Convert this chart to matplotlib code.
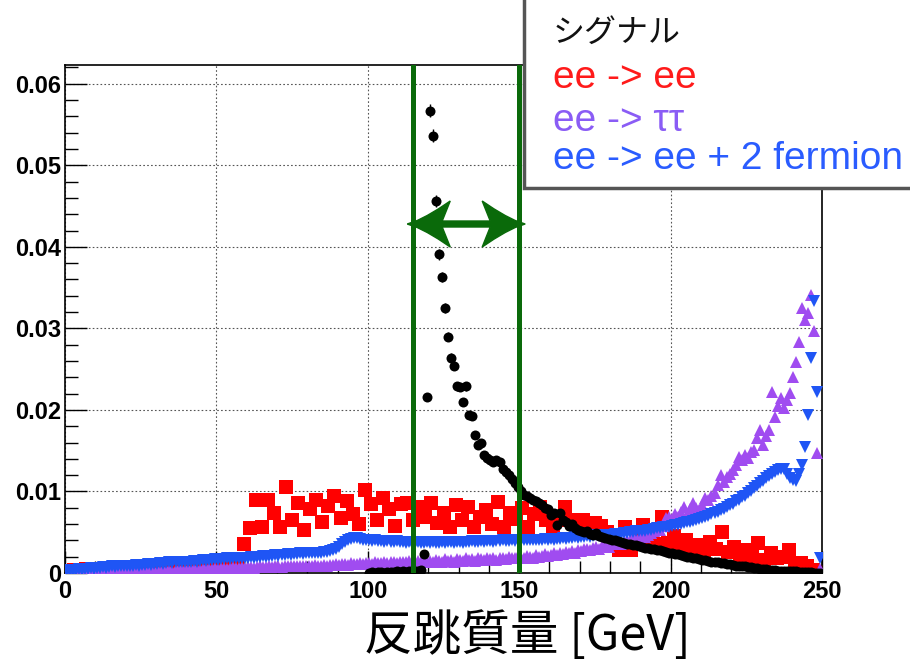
import numpy as np
import matplotlib
matplotlib.use("Agg")
import matplotlib.pyplot as plt
from matplotlib.patches import Rectangle, Polygon
from matplotlib.ticker import MultipleLocator, FuncFormatter

# recoil mass histograms, 1 GeV bins from 0 to 250 GeV
# ee -> ee + 2 fermion
blue_y = [
    0.0003, 0.0004, 0.0003, 0.0004, 0.0005, 0.0004, 0.0005, 0.0005, 0.0006, 0.0005,
    0.0006, 0.0006, 0.0007, 0.0006, 0.0007, 0.0008, 0.0007, 0.0008, 0.0008, 0.0009,
    0.0008, 0.0009, 0.0009, 0.0010, 0.0009, 0.0010, 0.0010, 0.0011, 0.0010, 0.0011,
    0.0011, 0.0012, 0.0011, 0.0012, 0.0013, 0.0012, 0.0013, 0.0013, 0.0014, 0.0013,
    0.0014, 0.0014, 0.0015, 0.0014, 0.0015, 0.0016, 0.0015, 0.0016, 0.0016, 0.0017,
    0.0016, 0.0017, 0.0017, 0.0018, 0.0017, 0.0018, 0.0018, 0.0019, 0.0018, 0.0019,
    0.0019, 0.0020, 0.0019, 0.0020, 0.0020, 0.0021, 0.0020, 0.0021, 0.0021, 0.0022,
    0.0021, 0.0022, 0.0022, 0.0023, 0.0022, 0.0023, 0.0023, 0.0024, 0.0023, 0.0024,
    0.0024, 0.0025, 0.0024, 0.0025, 0.0025, 0.0026, 0.0026, 0.0027, 0.0028, 0.0030,
    0.0032, 0.0035, 0.0038, 0.0040, 0.0042, 0.0043, 0.0043, 0.0042, 0.0041, 0.0040,
    0.0040, 0.0039, 0.0040, 0.0039, 0.0039, 0.0038, 0.0039, 0.0038, 0.0038, 0.0039,
    0.0038, 0.0038, 0.0037, 0.0038, 0.0037, 0.0037, 0.0038, 0.0037, 0.0037, 0.0038,
    0.0037, 0.0038, 0.0037, 0.0037, 0.0038, 0.0037, 0.0038, 0.0038, 0.0037, 0.0038,
    0.0038, 0.0037, 0.0038, 0.0038, 0.0039, 0.0038, 0.0038, 0.0039, 0.0038, 0.0039,
    0.0039, 0.0038, 0.0039, 0.0039, 0.0040, 0.0039, 0.0039, 0.0040, 0.0039, 0.0040,
    0.0040, 0.0040, 0.0041, 0.0040, 0.0041, 0.0041, 0.0040, 0.0041, 0.0042, 0.0041,
    0.0042, 0.0041, 0.0042, 0.0042, 0.0043, 0.0042, 0.0043, 0.0043, 0.0044, 0.0043,
    0.0044, 0.0044, 0.0045, 0.0044, 0.0045, 0.0046, 0.0045, 0.0046, 0.0046, 0.0047,
    0.0047, 0.0048, 0.0047, 0.0048, 0.0049, 0.0049, 0.0050, 0.0050, 0.0051, 0.0051,
    0.0052, 0.0052, 0.0053, 0.0053, 0.0054, 0.0055, 0.0055, 0.0056, 0.0057, 0.0057,
    0.0058, 0.0059, 0.0059, 0.0060, 0.0061, 0.0062, 0.0063, 0.0064, 0.0065, 0.0066,
    0.0067, 0.0069, 0.0070, 0.0072, 0.0074, 0.0075, 0.0077, 0.0079, 0.0081, 0.0083,
    0.0085, 0.0088, 0.0090, 0.0093, 0.0095, 0.0098, 0.0101, 0.0104, 0.0107, 0.0110,
    0.0113, 0.0116, 0.0119, 0.0121, 0.0124, 0.0126, 0.0128, 0.0127, 0.0122, 0.0116,
    0.0114, 0.0113, 0.0122, 0.0133, 0.0155, 0.0194, 0.0264, 0.0333, 0.0222, 0.0018,
]

# ee -> tautau
purple_y = [
    0.0000, 0.0001, 0.0000, 0.0001, 0.0001, 0.0000, 0.0001, 0.0001, 0.0002, 0.0001,
    0.0001, 0.0002, 0.0001, 0.0002, 0.0002, 0.0001, 0.0002, 0.0002, 0.0003, 0.0002,
    0.0002, 0.0003, 0.0002, 0.0003, 0.0003, 0.0002, 0.0003, 0.0003, 0.0004, 0.0003,
    0.0003, 0.0004, 0.0003, 0.0004, 0.0004, 0.0003, 0.0004, 0.0005, 0.0004, 0.0004,
    0.0005, 0.0004, 0.0005, 0.0005, 0.0004, 0.0005, 0.0006, 0.0005, 0.0005, 0.0006,
    0.0005, 0.0006, 0.0006, 0.0005, 0.0006, 0.0007, 0.0006, 0.0006, 0.0007, 0.0006,
    0.0007, 0.0007, 0.0006, 0.0007, 0.0008, 0.0007, 0.0007, 0.0008, 0.0007, 0.0008,
    0.0008, 0.0007, 0.0008, 0.0009, 0.0008, 0.0008, 0.0009, 0.0008, 0.0009, 0.0009,
    0.0008, 0.0009, 0.0010, 0.0009, 0.0009, 0.0010, 0.0009, 0.0010, 0.0010, 0.0011,
    0.0010, 0.0011, 0.0011, 0.0010, 0.0012, 0.0011, 0.0011, 0.0012, 0.0011, 0.0012,
    0.0012, 0.0011, 0.0013, 0.0012, 0.0012, 0.0013, 0.0012, 0.0014, 0.0013, 0.0012,
    0.0014, 0.0013, 0.0013, 0.0015, 0.0014, 0.0013, 0.0015, 0.0014, 0.0016, 0.0014,
    0.0015, 0.0013, 0.0016, 0.0015, 0.0014, 0.0017, 0.0015, 0.0016, 0.0014, 0.0017,
    0.0016, 0.0015, 0.0018, 0.0016, 0.0017, 0.0015, 0.0018, 0.0017, 0.0016, 0.0019,
    0.0017, 0.0018, 0.0016, 0.0019, 0.0018, 0.0017, 0.0020, 0.0018, 0.0019, 0.0021,
    0.0019, 0.0018, 0.0021, 0.0020, 0.0019, 0.0022, 0.0020, 0.0021, 0.0023, 0.0021,
    0.0022, 0.0024, 0.0022, 0.0025, 0.0023, 0.0026, 0.0024, 0.0027, 0.0025, 0.0028,
    0.0027, 0.0029, 0.0030, 0.0028, 0.0031, 0.0032, 0.0030, 0.0033, 0.0034, 0.0032,
    0.0035, 0.0036, 0.0037, 0.0035, 0.0038, 0.0040, 0.0039, 0.0044, 0.0041, 0.0043,
    0.0045, 0.0044, 0.0047, 0.0049, 0.0051, 0.0057, 0.0053, 0.0058, 0.0067, 0.0069,
    0.0066, 0.0072, 0.0069, 0.0075, 0.0081, 0.0070, 0.0078, 0.0086, 0.0080, 0.0077,
    0.0084, 0.0092, 0.0090, 0.0095, 0.0098, 0.0108, 0.0120, 0.0112, 0.0118, 0.0122,
    0.0126, 0.0133, 0.0142, 0.0138, 0.0145, 0.0141, 0.0148, 0.0151, 0.0166, 0.0175,
    0.0157, 0.0168, 0.0175, 0.0222, 0.0191, 0.0205, 0.0215, 0.0202, 0.0212, 0.0221,
    0.0240, 0.0259, 0.0283, 0.0325, 0.0310, 0.0319, 0.0341, 0.0297, 0.0147, 0.0005,
]

# signal, bins from 100 GeV on (empty below)
signal_start = 100
black_y = [
    0.0000, 0.0001, 0.0000, 0.0001, 0.0001, 0.0000, 0.0001, 0.0001, 0.0001, 0.0002,
    0.0001, 0.0002, 0.0001, 0.0002, 0.0002, 0.0003, 0.0003, 0.0004, 0.0023, 0.0216,
    0.0567, 0.0536, 0.0456, 0.0391, 0.0363, 0.0325, 0.0290, 0.0264, 0.0254, 0.0229,
    0.0228, 0.0210, 0.0229, 0.0194, 0.0192, 0.0169, 0.0157, 0.0160, 0.0145, 0.0141,
    0.0138, 0.0136, 0.0139, 0.0136, 0.0128, 0.0124, 0.0120, 0.0115, 0.0110, 0.0105,
    0.0100, 0.0096, 0.0095, 0.0092, 0.0090, 0.0088, 0.0086, 0.0084, 0.0080, 0.0078,
    0.0071, 0.0073, 0.0059, 0.0073, 0.0065, 0.0062, 0.0058, 0.0060, 0.0055, 0.0053,
    0.0052, 0.0050, 0.0051, 0.0048, 0.0047, 0.0049, 0.0045, 0.0044, 0.0043, 0.0042,
    0.0040, 0.0041, 0.0039, 0.0038, 0.0037, 0.0036, 0.0035, 0.0034, 0.0034, 0.0033,
    0.0032, 0.0031, 0.0031, 0.0030, 0.0029, 0.0028, 0.0028, 0.0027, 0.0026, 0.0025,
    0.0024, 0.0023, 0.0023, 0.0022, 0.0021, 0.0020, 0.0020, 0.0019, 0.0018, 0.0017,
    0.0016, 0.0016, 0.0015, 0.0014, 0.0014, 0.0013, 0.0012, 0.0012, 0.0011, 0.0011,
    0.0010, 0.0009, 0.0009, 0.0008, 0.0008, 0.0007, 0.0007, 0.0006, 0.0006, 0.0005,
    0.0005, 0.0005, 0.0004, 0.0004, 0.0004, 0.0003, 0.0003, 0.0003, 0.0002, 0.0002,
    0.0002, 0.0002, 0.0001, 0.0001, 0.0001, 0.0001, 0.0001, 0.0000, 0.0000, 0.0000,
]

# ee -> ee, 2 GeV bins
red_y = [
    0.0003, 0.0004, 0.0003, 0.0005, 0.0004, 0.0003, 0.0005, 0.0004, 0.0006, 0.0005,
    0.0004, 0.0006, 0.0005, 0.0007, 0.0005, 0.0006, 0.0004, 0.0007, 0.0006, 0.0008,
    0.0006, 0.0007, 0.0008, 0.0006, 0.0009, 0.0007, 0.0008, 0.0009, 0.0010,
    0.0036, 0.0055, 0.0089, 0.0057, 0.0090, 0.0073, 0.0057, 0.0105, 0.0065, 0.0086,
    0.0053, 0.0078, 0.0090, 0.0062, 0.0082, 0.0095, 0.0068, 0.0088, 0.0072, 0.0060,
    0.0102, 0.0085, 0.0065, 0.0092, 0.0078, 0.0058, 0.0085, 0.0086, 0.0065, 0.0081,
    0.0069, 0.0086, 0.0061, 0.0074, 0.0056, 0.0083, 0.0065, 0.0081, 0.0056, 0.0069,
    0.0077, 0.0060, 0.0087, 0.0056, 0.0074, 0.0066, 0.0080, 0.0056, 0.0072, 0.0081,
    0.0065, 0.0056, 0.0065, 0.0081, 0.0065, 0.0056, 0.0065, 0.0053, 0.0061, 0.0058,
    0.0050, 0.0045, 0.0028, 0.0056, 0.0028, 0.0042, 0.0059, 0.0040, 0.0035, 0.0069,
    0.0037, 0.0045, 0.0032, 0.0040, 0.0030, 0.0034, 0.0028, 0.0038, 0.0030, 0.0050,
    0.0026, 0.0032, 0.0022, 0.0028, 0.0020, 0.0037, 0.0016, 0.0024, 0.0018, 0.0020,
    0.0028, 0.0012, 0.0012, 0.0009, 0.0004, 0.0001,
]

cut_lo, cut_hi = 115, 150
arrow_level = 0.0428

legend_labels = ["シグナル", "ee -> ee", "ee -> ττ", "ee -> ee + 2 fermion"]
legend_colors = ["#111111", "#ff1a1a", "#8a5cf5", "#2a5cff"]

blue_x = np.arange(len(blue_y)) + 0.5
purple_x = np.arange(len(purple_y)) + 0.5
black_x = signal_start + np.arange(len(black_y)) + 0.5
red_x = 2 * np.arange(len(red_y)) + 1

jp = ["Noto Sans CJK JP", "DejaVu Sans"]
latin = ["Liberation Sans", "DejaVu Sans"]
plt.rcParams["font.family"] = ["Liberation Sans", "Noto Sans CJK JP", "DejaVu Sans"]

W, H = 910, 664
ax_px = (65, 91, 757, 508)  # left, bottom, width, height in pixels
xmax, ymax = 250, 0.0623

fig = plt.figure(figsize=(W / 100, H / 100), dpi=100)
ax = fig.add_axes([ax_px[0] / W, ax_px[1] / H, ax_px[2] / W, ax_px[3] / H])

ax.plot(red_x, red_y, "s", color="#ff0000", ms=9.8, mew=0, zorder=2)

purple_err = np.sqrt(np.array(purple_y) * 6e-6)
ax.errorbar(purple_x, purple_y, yerr=purple_err, fmt="^", color="#a04cf0",
            ecolor="#333333", elinewidth=0.8, ms=8.5, mew=0, zorder=3)

ax.plot(blue_x, blue_y, "v", color="#1f55f5", ms=8.5, mew=0, zorder=4)

black_err = np.sqrt(np.array(black_y) * 1.2e-5)
ax.errorbar(black_x, black_y, yerr=black_err, fmt="o", color="black",
            ecolor="black", elinewidth=1, ms=7.2, mew=0, zorder=5)

# mass window
for xc in (cut_lo, cut_hi):
    ax.axvline(xc, color="#0a6a0a", lw=3.6, zorder=6)

# double arrow with swept heads, shape given in pixels
gx = xmax / ax_px[2]
gy = ymax / ax_px[3]
overhang = 6
head = [(0, 0), (10, 3.5), (20, 8.5), (31, 15), (43, 23), (35, 3)]
x0 = cut_lo - overhang * gx
x1 = cut_hi + overhang * gx
upper_left = [(x0 + px * gx, arrow_level + py * gy) for px, py in head]
upper_right = [(x1 - px * gx, arrow_level + py * gy) for px, py in head[::-1]]
lower_right = [(x1 - px * gx, arrow_level - py * gy) for px, py in head]
lower_left = [(x0 + px * gx, arrow_level - py * gy) for px, py in head[::-1]]
verts = upper_left + upper_right + lower_right + lower_left
ax.add_patch(Polygon(verts, closed=True, facecolor="#0a6a0a", edgecolor="#0a6a0a",
                     lw=1, zorder=7))

ax.set_xlim(0, xmax)
ax.set_ylim(0, ymax)
ax.xaxis.set_major_locator(MultipleLocator(50))
ax.xaxis.set_minor_locator(MultipleLocator(10))
ax.yaxis.set_major_locator(MultipleLocator(0.01))
ax.yaxis.set_minor_locator(MultipleLocator(0.002))
ax.yaxis.set_major_formatter(FuncFormatter(lambda v, _: "0" if abs(v) < 1e-9 else f"{v:.2f}"))
ax.tick_params(which="major", direction="in", length=16, width=1, labelsize=17)
ax.tick_params(which="minor", direction="in", length=9, width=1)
ax.tick_params(axis="y", pad=3)
ax.tick_params(axis="x", pad=5)
for lab in ax.get_xticklabels() + ax.get_yticklabels():
    lab.set_fontweight("bold")
for sp in ax.spines.values():
    sp.set_linewidth(1.2)

ax.grid(True, which="major", linestyle=(0, (1.5, 2)), color="#555555", lw=0.8)
ax.set_axisbelow(True)

fig.text(527 / W, 1 - 636 / H, "反跳質量 [GeV]", family=jp, fontsize=35,
         ha="center", va="center")

# legend box
fig.add_artist(Rectangle((524 / W, 1 - 188 / H), 1, 1, transform=fig.transFigure,
                         facecolor="white", edgecolor="#555555", lw=2.5,
                         zorder=10, clip_on=False))
legend_y = [33, 78, 121, 159]
for lab, col, yy in zip(legend_labels, legend_colors, legend_y):
    first = lab == legend_labels[0]
    fig.text(553 / W, 1 - yy / H, lab, color=col, family=jp if first else latin,
             fontsize=23 if first else 28, va="center", ha="left", zorder=11)

fig.savefig("out.png", dpi=100)
